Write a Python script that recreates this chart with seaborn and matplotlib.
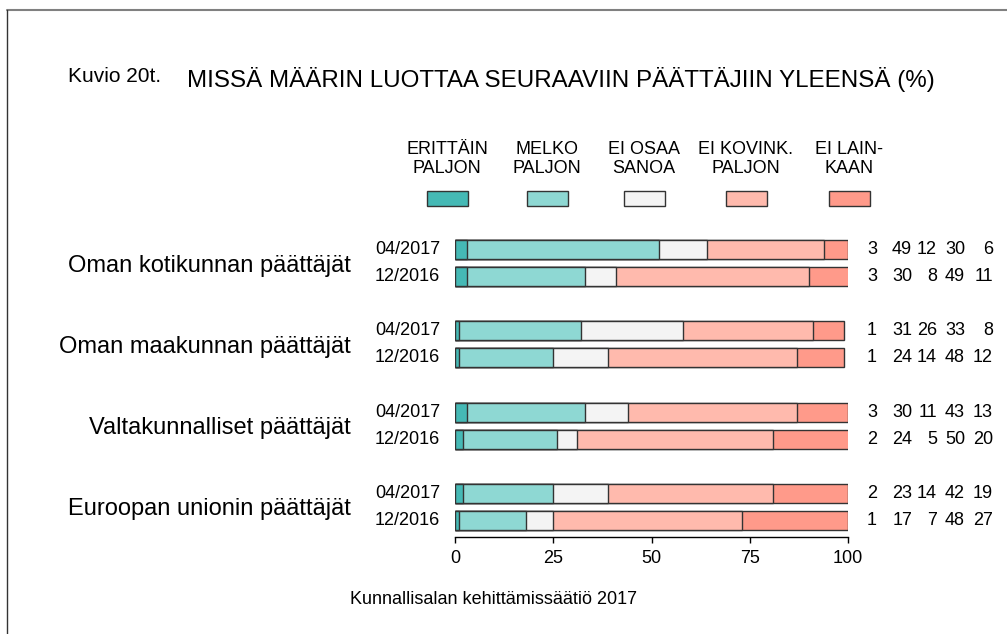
import numpy as np
import pandas as pd
import seaborn as sns
import matplotlib.pyplot as plt
import matplotlib.transforms as mtransforms
from matplotlib.patches import Rectangle
from matplotlib.lines import Line2D

# --------------------
# Data
# --------------------
groups = ["Oman kotikunnan päättäjät", "Oman maakunnan päättäjät",
          "Valtakunnalliset päättäjät", "Euroopan unionin päättäjät"]
dates = ["04/2017", "12/2016"]
categories = ["ERITTÄIN\nPALJON", "MELKO\nPALJON", "EI OSAA\nSANOA",
              "EI KOVINK.\nPALJON", "EI LAIN-\nKAAN"]
colors = ["#45B9B5", "#8ED8D3", "#F4F4F4", "#FFBAAD", "#FF9A8A"]

# rows: group1 04/2017, group1 12/2016, group2 04/2017, ...
erittain = [3, 3, 1, 1, 3, 2, 2, 1]
melko = [49, 30, 31, 24, 30, 24, 23, 17]
ei_osaa = [12, 8, 26, 14, 11, 5, 14, 7]
ei_kovink = [30, 49, 33, 48, 43, 50, 42, 48]
ei_lainkaan = [6, 11, 8, 12, 13, 20, 19, 27]

title = "MISSÄ MÄÄRIN LUOTTAA SEURAAVIIN PÄÄTTÄJIIN YLEENSÄ (%)"
source = "Kunnallisalan kehittämissäätiö 2017"

segs = np.array([erittain, melko, ei_osaa, ei_kovink, ei_lainkaan])
cum = np.cumsum(segs, axis=0)

df = pd.DataFrame({"group": np.repeat(groups, 2), "date": dates * 4})

# --------------------
# Figure
# --------------------
sns.set_style("white")
plt.rcParams["font.family"] = ["Liberation Sans", "DejaVu Sans"]
plt.rcParams["text.color"] = "black"
plt.rcParams["xtick.color"] = "black"
plt.rcParams["ytick.color"] = "black"
plt.rcParams["xtick.labelcolor"] = "black"
plt.rcParams["ytick.labelcolor"] = "black"

W, H = 1007, 634
fig = plt.figure(figsize=(W / 100, H / 100), dpi=100)
ax = fig.add_axes([455 / W, 1 - 537 / H, 393 / W, 301 / H])

bar_w = 0.664
# stacked bars: draw cumulative totals from longest to shortest
for k in reversed(range(len(categories))):
    df["cum"] = cum[k]
    sns.barplot(data=df, x="cum", y="group", hue="date", order=groups,
                hue_order=dates, palette={d: colors[k] for d in dates},
                orient="h", width=bar_w, gap=0.295, saturation=1,
                edgecolor="#333333", linewidth=1, errorbar=None,
                legend=False, ax=ax)

ax.set_xlim(0, 100)
ax.set_ylim(3.369, -0.332)
ax.set_xlabel("")
ax.set_ylabel("")
ax.set_xticks([0, 25, 50, 75, 100])
for s in ["top", "right", "left"]:
    ax.spines[s].set_visible(False)
ax.spines["bottom"].set_color("black")
ax.spines["bottom"].set_linewidth(1)
ax.tick_params(axis="x", direction="out", length=4.5, width=1, color="black",
               labelcolor="black", labelsize=13, pad=5, bottom=True)
ax.tick_params(axis="y", length=0, pad=75, labelsize=17, labelcolor="black")

# date labels and values
trans = mtransforms.blended_transform_factory(ax.transAxes, ax.transData)
off = bar_w / 4
num_x = [1.074, 1.163, 1.226, 1.298, 1.369]
for gi in range(len(groups)):
    for di, d in enumerate(dates):
        y = gi + (-off if di == 0 else off)
        ax.text(-0.038, y, d, transform=trans, ha="right", va="center",
                fontsize=13)
        r = gi * 2 + di
        for k in range(len(categories)):
            ax.text(num_x[k], y, str(segs[k, r]), transform=trans,
                    ha="right", va="center", fontsize=13)

# legend above the bars
leg_x = [447, 547, 644, 746, 849]
for cx, lab, col in zip(leg_x, categories, colors):
    fig.text(cx / W, 1 - 159 / H, lab, ha="center", va="center",
             fontsize=13, linespacing=1.2)
    fig.add_artist(Rectangle(((cx - 20.5) / W, 1 - 206 / H), 41 / W, 15 / H,
                             transform=fig.transFigure, facecolor=col,
                             edgecolor="#333333", linewidth=1))

# titles and source
fig.text(68 / W, 1 - 77 / H, "Kuvio 20t.", fontsize=15, va="center")
fig.text(187 / W, 1 - 80 / H, title, fontsize=17.4, va="center")
fig.text(494 / W, 1 - 599 / H, source, fontsize=13, ha="center", va="center")

# frame lines
fig.add_artist(Line2D([7 / W, 1], [1 - 10 / H, 1 - 10 / H],
                      transform=fig.transFigure, color="#808080", lw=1.5))
fig.add_artist(Line2D([7 / W, 7 / W], [0, 1 - 10 / H],
                      transform=fig.transFigure, color="#333333", lw=1))

fig.savefig("out.png", dpi=100)
